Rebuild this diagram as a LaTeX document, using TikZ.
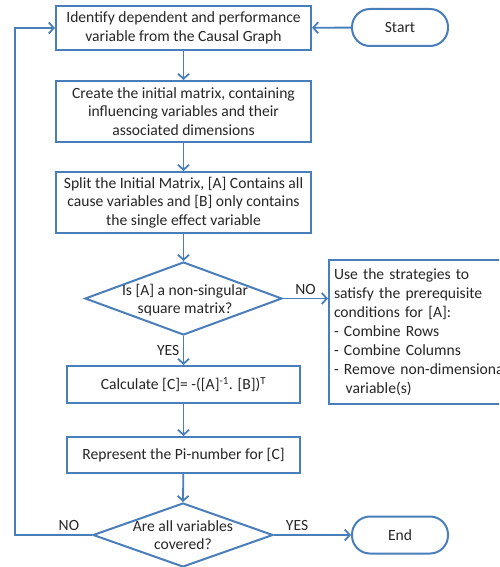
\documentclass[tikz,border=0pt]{standalone}
\usepackage{fontspec}
\setmainfont{Carlito}
\usetikzlibrary{shapes.geometric,arrows.meta}
\definecolor{flowblue}{RGB}{74,126,187}
\definecolor{flowtext}{RGB}{38,38,38}

\begin{document}
\begin{tikzpicture}[x=1pt, y=-1pt,
  every node/.style={font=\fontsize{15.6}{18.5}\selectfont, text=flowtext},
  box/.style={draw=flowblue, line width=2pt, fill=white, align=center, inner sep=0pt},
  decision/.style={draw=flowblue, line width=2pt, shape=diamond, inner sep=0pt},
  terminal/.style={draw=flowblue, line width=2pt, rounded corners=18pt, minimum width=96pt, minimum height=37pt},
  arrow/.style={draw=flowblue, line width=1.8pt, -{Straight Barb[length=5pt,width=11pt]}}]
  \clip (0,0) rectangle (499,567);
  % Start and the main steps
  \node[terminal] (start) at (400,27.5) {Start};
  \node[box, minimum width=255pt, minimum height=44pt] (identify) at (183.5,28) {Identify dependent and performance\\variable from the Causal Graph};
  \node[box, minimum width=255pt, minimum height=61pt] (initial) at (183.5,111.5) {Create the initial matrix, containing\\influencing variables and their\\associated dimensions};
  \node[box, minimum width=255pt, minimum height=61pt] (split) at (183.5,202.5) {Split the Initial Matrix, [A] Contains all\\cause variables and [B] only contains\\the single effect variable};
  % First decision
  \node[decision, minimum width=197pt, minimum height=73pt] (square) at (183.5,298.5) {};
  \node (squaretext) at (185,301) {\begin{tabular}{@{}c@{}}Is [A] a non-singular\\square matrix?\end{tabular}};
  \node[box, anchor=north west, minimum width=200pt, minimum height=144pt, text width=190pt, align=left, inner xsep=5pt, font=\fontsize{15.6}{19}\selectfont] (strategy) at (328,259) {Use the strategies to\\satisfy the prerequisite\\conditions for [A]:\\- Combine Rows\\- Combine Columns\\- Remove non-dimensional\\\hspace*{0.75em}variable(s)};
  % Calculation steps
  \node[box, minimum width=233pt, minimum height=37pt] (calc) at (183.5,384.5) {Calculate [C]= -([A]\textsuperscript{-1}. [B])\textsuperscript{T}};
  \node[box, minimum width=233pt, minimum height=36pt] (pinumber) at (183.5,455) {Represent the Pi-number for [C]};
  % Second decision and end
  \node[decision, minimum width=180pt, minimum height=64pt] (covered) at (183,535) {};
  \node (coveredtext) at (183,537) {\begin{tabular}{@{}c@{}}Are all variables\\covered?\end{tabular}};
  \node[terminal] (finish) at (400,535) {End};
  % Connectors
  \draw[arrow] (start) -- (identify);
  \draw[arrow] (identify) -- (initial);
  \draw[arrow] (initial) -- (split);
  \draw[arrow] (split) -- (square.north);
  \draw[arrow] (square.east) -- (square.east -| strategy.west) node[midway, above] {NO};
  \draw[arrow] (square.south) -- (calc) node[midway, left] {YES};
  \draw[arrow] (calc) -- (pinumber);
  \draw[arrow] (pinumber) -- (covered.north);
  \draw[arrow] (covered.east) -- (finish) node[pos=0.3, above] {YES};
  \coordinate (loop) at (15,535);
  \draw[arrow] (covered.west) -- (loop) node[pos=0.3, above] {NO} |- (identify.west);
\end{tikzpicture}
\end{document}
